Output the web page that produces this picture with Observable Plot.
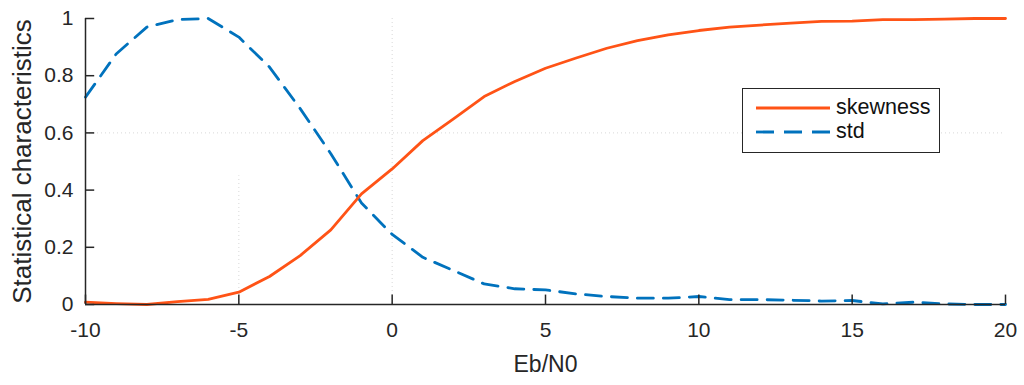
<!DOCTYPE html>
<html><head><meta charset="utf-8">
<script src="https://cdn.jsdelivr.net/npm/d3@7"></script>
<script src="https://cdn.jsdelivr.net/npm/@observablehq/plot@0.6"></script>
<style>
body{margin:0;background:#fff;font-family:"Liberation Sans",Arial,sans-serif;}
#wrap{position:relative;width:1024px;height:385px;}
#legend{position:absolute;left:742px;top:88px;width:198px;height:65px;border:1.5px solid #262626;background:#fff;box-sizing:border-box;font-size:21.5px;color:#111;}
#legend .row{position:absolute;left:12px;display:flex;align-items:center;}
#legend svg{margin-right:5px;}
</style></head>
<body><div id="wrap"><div id="legend"></div></div>
<script>
const ebn0 = [-10,-9,-8,-7,-6,-5,-4,-3,-2,-1,0,1,2,3,4,5,6,7,8,9,10,11,12,13,14,15,16,17,18,19,20];
const skewness = [0.008,0.003,0.0,0.01,0.018,0.043,0.098,0.171,0.261,0.387,0.474,0.573,0.649,0.727,0.780,0.826,0.862,0.896,0.923,0.943,0.958,0.970,0.977,0.984,0.990,0.991,0.996,0.996,0.998,1.0,1.0];
const stdv = [0.725,0.876,0.970,0.996,1.0,0.935,0.830,0.685,0.527,0.355,0.245,0.165,0.119,0.072,0.055,0.051,0.037,0.028,0.022,0.022,0.028,0.017,0.017,0.015,0.012,0.014,0.002,0.008,0.002,0.0,0.0];
const xTicks = [-10,-5,0,5,10,15,20];
const yTicks = [0,0.2,0.4,0.6,0.8,1];
const seriesNames = ["skewness","std"];
const colors = ["#ff5316","#0072bd"];

const data = ebn0.map((x,i)=>({x, skew: skewness[i], sd: stdv[i]}));
const axisColor = "#262626";

const chart = Plot.plot({
  width: 1024, height: 385,
  marginLeft: 85, marginRight: 19, marginTop: 18, marginBottom: 81,
  style: {fontFamily: '"Liberation Sans", Arial, sans-serif', fontSize: "21px", color: axisColor, background: "#fff"},
  x: {domain: [-10, 20]},
  y: {domain: [0, 1]},
  marks: [
    Plot.ruleY([0.6], {stroke: "#d8d8d8", strokeDasharray: "1,3", strokeWidth: 1}),
    Plot.ruleX([0], {stroke: "#d8d8d8", strokeDasharray: "1,3", strokeWidth: 1}),
    Plot.ruleX([-5], {y1: 0, y2: 0.45, stroke: "#d8d8d8", strokeDasharray: "1,3", strokeWidth: 1}),
    Plot.line(data, {x: "x", y: "sd", stroke: colors[1], strokeWidth: 2.8, strokeDasharray: "16,10", strokeLinejoin: "round"}),
    Plot.line(data, {x: "x", y: "skew", stroke: colors[0], strokeWidth: 2.8, strokeLinejoin: "round"}),
    Plot.ruleY([0], {stroke: axisColor, strokeWidth: 1.5}),
    Plot.ruleX([-10], {stroke: axisColor, strokeWidth: 1.5}),
    Plot.ruleX(xTicks, {y1: 0, y2: 0.033, stroke: axisColor, strokeWidth: 1.5}),
    Plot.ruleY(yTicks, {x1: -10, x2: -9.7, stroke: axisColor, strokeWidth: 1.5}),
    Plot.axisX(xTicks, {tickSize: 0, tickPadding: 18, tickFormat: d => String(d), fontSize: 21, fill: axisColor, label: null}),
    Plot.axisY(yTicks, {tickSize: 0, tickPadding: 12, tickFormat: d => String(d), fontSize: 21, fill: axisColor, label: null}),
    Plot.text(["Eb/N0"], {frameAnchor: "bottom", dy: 67, fontSize: 23, fill: axisColor}),
    Plot.text(["Statistical characteristics"], {frameAnchor: "left", textAnchor: "middle", dx: -63, rotate: -90, fontSize: 26, fill: axisColor})
  ]
});
document.getElementById("wrap").prepend(chart);

const leg = document.getElementById("legend");
seriesNames.forEach((name, i) => {
  const row = document.createElement("div");
  row.className = "row";
  row.style.top = (i === 0 ? 6 : 30) + "px";
  const dash = i === 0 ? "" : ' stroke-dasharray="18,10"';
  row.innerHTML = `<svg width="76" height="24"><line x1="1" y1="12" x2="75" y2="12" stroke="${colors[i]}" stroke-width="2.8"${dash}/></svg><span>${name}</span>`;
  leg.appendChild(row);
});
</script></body></html>
